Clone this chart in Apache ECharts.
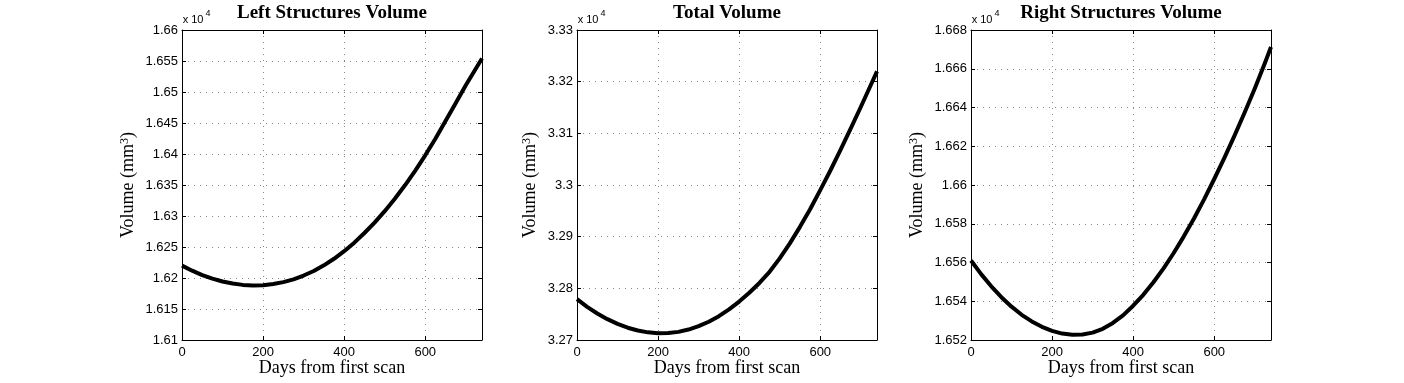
<!DOCTYPE html>
<html><head><meta charset="utf-8">
<script src="https://cdn.jsdelivr.net/npm/echarts@6/dist/echarts.min.js"></script>
<style>html,body{margin:0;padding:0;background:#fff}#c{width:1404px;height:383px}</style>
</head><body><div id="c"></div>
<script>
// ---- data (volumes in mm^3) ----
const days = [0, 25, 50, 75, 100, 125, 150, 175, 200, 225, 250, 275, 300, 325, 350, 375, 400, 425, 450, 475, 500, 525, 550, 575, 600, 625, 650, 675, 700, 725, 740];
const leftVolume = [16220.0, 16211.8, 16204.7, 16198.9, 16194.3, 16191.0, 16188.9, 16188.0, 16188.4, 16190.2, 16193.3, 16197.9, 16204.0, 16211.3, 16220.4, 16231.0, 16243.2, 16257.0, 16272.6, 16289.4, 16307.8, 16327.9, 16349.5, 16372.9, 16397.9, 16424.6, 16453.1, 16482.0, 16511.0, 16538.0, 16554.0];
const totalVolume = [32779.0, 32764.2, 32751.3, 32740.3, 32731.1, 32723.8, 32718.4, 32714.8, 32713.2, 32713.4, 32715.7, 32720.2, 32726.8, 32735.4, 32746.1, 32759.3, 32774.4, 32791.4, 32810.4, 32832.0, 32858.0, 32887.0, 32919.0, 32953.0, 32990.0, 33028.0, 33068.0, 33109.0, 33151.0, 33194.0, 33220.0];
const rightVolume = [16561.0, 16554.0, 16547.7, 16542.1, 16537.2, 16533.0, 16529.6, 16526.8, 16524.7, 16523.3, 16522.7, 16522.8, 16523.8, 16525.8, 16528.8, 16532.7, 16537.7, 16543.3, 16549.8, 16557.0, 16564.9, 16573.5, 16582.7, 16592.6, 16603.1, 16614.0, 16625.5, 16637.4, 16649.8, 16663.0, 16671.2];
const titles = ['Left Structures Volume', 'Total Volume', 'Right Structures Volume'];
const xName = 'Days from first scan';
const xTickLabels = [0, 200, 400, 600];
const yMin = [16100, 32700, 16520];
const yMax = [16600, 33300, 16680];
const yStep = [50, 100, 20];
const xMin = 0, xMax = 740, xStep = 200;

const seriesValues = [leftVolume, totalVolume, rightVolume];

// ---- layout ----
const gridLeft = [182, 577, 971];
const gridTop = 30, gridW = 300, gridH = 310;
const yNameOffset = [54, 47, 54];
const tickFont = 'Liberation Sans, Arial, Helvetica, sans-serif';
const serif = 'Liberation Serif, Times New Roman, serif';

const chart = echarts.init(document.getElementById('c'), null, {renderer: 'canvas'});

const grids = [], xAxes = [], yAxes = [], series = [], graphics = [];
const fmtY = v => String(parseFloat((v / 1e4).toFixed(4)));
const fmtX = v => xTickLabels.indexOf(v) >= 0 ? String(v) : '';

for (let i = 0; i < 3; i++) {
  grids.push({left: gridLeft[i], top: gridTop, width: gridW, height: gridH, containLabel: false});
  const baseX = {
    type: 'value', gridIndex: i, min: xMin, max: xMax, interval: xStep,
    axisLine: {show: true, onZero: false, lineStyle: {color: '#000', width: 1}},
    axisTick: {show: true, inside: true, length: 4, lineStyle: {color: '#000'}},
  };
  xAxes.push(Object.assign({}, baseX, {
    position: 'bottom',
    axisLabel: {show: true, color: '#000', fontSize: 13, fontFamily: tickFont, margin: 6, formatter: fmtX},
    splitLine: {show: true, lineStyle: {color: '#888', width: 1, type: [1, 5]}}
  }));
  xAxes.push(Object.assign({}, baseX, {
    position: 'top', axisLabel: {show: false}, splitLine: {show: false}
  }));
  const baseY = {
    type: 'value', gridIndex: i, min: yMin[i], max: yMax[i], interval: yStep[i],
    axisLine: {show: true, onZero: false, lineStyle: {color: '#000', width: 1}},
    axisTick: {show: true, inside: true, length: 4, lineStyle: {color: '#000'}},
  };
  yAxes.push(Object.assign({}, baseY, {
    position: 'left',
    axisLabel: {show: true, color: '#000', fontSize: 13, fontFamily: tickFont, margin: 4, formatter: fmtY},
    splitLine: {show: true, lineStyle: {color: '#888', width: 1, type: [1, 5]}}
  }));
  yAxes.push(Object.assign({}, baseY, {
    position: 'right', axisLabel: {show: false}, splitLine: {show: false}
  }));
  series.push({
    type: 'line', xAxisIndex: 2 * i, yAxisIndex: 2 * i,
    data: days.map((d, k) => [d, seriesValues[i][k]]),
    showSymbol: false, smooth: false,
    lineStyle: {color: '#000', width: 4, join: 'round'},
    clip: true, silent: true
  });
  const cx = gridLeft[i] + gridW / 2;
  graphics.push({type: 'text', x: cx, y: 12.6, style: {text: titles[i], font: 'bold 19px ' + serif, fill: '#000', align: 'center', verticalAlign: 'middle'}});
  graphics.push({type: 'text', x: cx, y: 368, style: {text: xName, font: '18px ' + serif, fill: '#000', align: 'center', verticalAlign: 'middle'}});
  graphics.push({type: 'text', x: gridLeft[i] - yNameOffset[i], y: gridTop + gridH / 2, rotation: Math.PI / 2,
    style: {
      text: '{a|Volume (mm}{s|3}{a|)}', align: 'center', verticalAlign: 'middle', fill: '#000',
      rich: {
        a: {fontSize: 18, fontFamily: serif, fill: '#000', verticalAlign: 'middle'},
        s: {fontSize: 12, fontFamily: serif, fill: '#000', verticalAlign: 'top'}
      }
    }});
  graphics.push({type: 'text', x: gridLeft[i] + 0.7, y: 19.5, style: {text: 'x 10', font: '11px ' + tickFont, fill: '#000', align: 'left', verticalAlign: 'middle'}});
  graphics.push({type: 'text', x: gridLeft[i] + 23.5, y: 13.5, style: {text: '4', font: '9px ' + tickFont, fill: '#000', align: 'left', verticalAlign: 'middle'}});
}

chart.setOption({
  animation: false,
  backgroundColor: '#fff',
  grid: grids, xAxis: xAxes, yAxis: yAxes, series: series, graphic: graphics
});
</script></body></html>
